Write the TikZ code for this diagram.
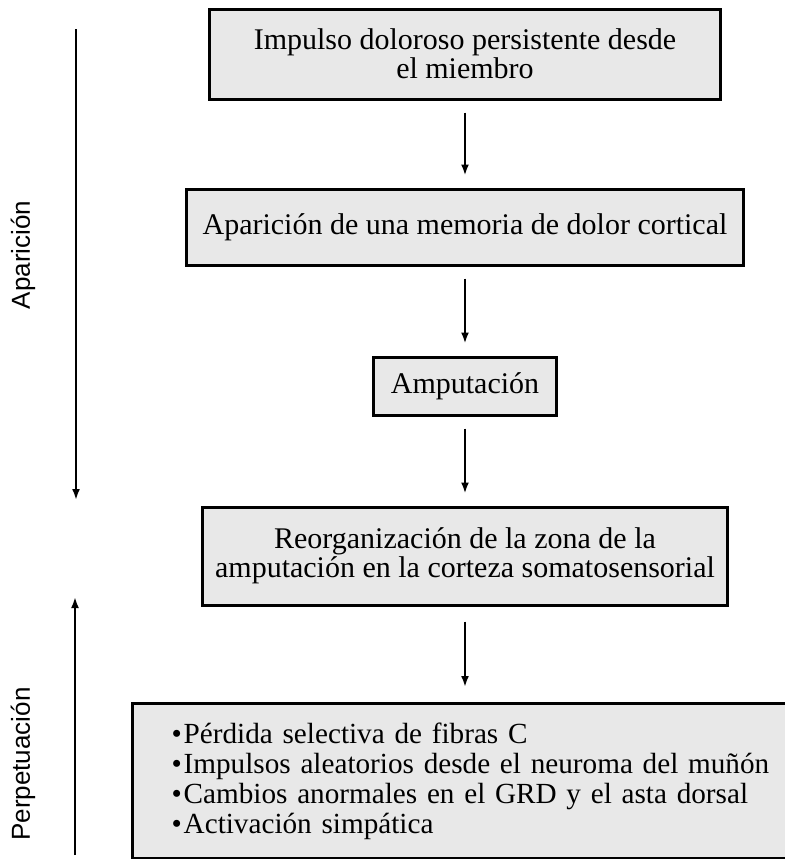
\documentclass[tikz,border=0pt]{standalone}
\usepackage{fontspec}
\setmainfont{Liberation Serif}
\newfontfamily\phasefont{Liberation Sans}
\usetikzlibrary{arrows.meta}
\definecolor{boxgray}{RGB}{232,232,232}

\begin{document}
\begin{tikzpicture}[x=0.5pt,y=-0.5pt,
  stagebox/.style={draw,line width=1.5pt,fill=boxgray,inner sep=0pt,align=center,font=\fontsize{15}{14.5}\selectfont},
  flowarrow/.style={-{Latex[length=5.5pt,width=4pt]},line width=1.4pt,shorten <=6pt,shorten >=6pt},
  phasearrow/.style={-{Latex[length=5.5pt,width=4pt]},line width=1.4pt},
  phaselabel/.style={rotate=90,font=\phasefont\fontsize{13}{13}\selectfont}]
\useasboundingbox (0,0) rectangle (784,859);

\node[stagebox,minimum width=255.5pt,minimum height=45pt] (impulso) at (465,54) {Impulso doloroso persistente desde\\el miembro};
\node[stagebox,minimum width=278.5pt,minimum height=38pt] (memoria) at (465,227) {Aparición de una memoria de dolor cortical};
\node[stagebox,minimum width=91.5pt,minimum height=29pt] (amputacion) at (465,386) {Amputación};
\node[stagebox,minimum width=262.5pt,minimum height=49pt] (reorganizacion) at (465,556) {Reorganización de la zona de la\\amputación en la corteza somatosensorial};
\node[stagebox,anchor=north west,minimum height=77.5pt,text width=310pt,inner xsep=19.5pt,align=left,font=\fontsize{14.6}{15}\selectfont] (mecanismos) at (131,702) {%
•\hspace{1pt}Pérdida selectiva de fibras C\\
•\hspace{1pt}Impulsos aleatorios desde el neuroma del muñón\\
•\hspace{1pt}Cambios anormales en el GRD y el asta dorsal\\
•\hspace{1pt}Activación simpática};

\draw[flowarrow] (impulso) -- (memoria);
\draw[flowarrow] (memoria) -- (amputacion);
\draw[flowarrow] (amputacion) -- (reorganizacion);
\draw[flowarrow,shorten <=7.5pt,shorten >=7.5pt] (reorganizacion) -- (reorganizacion.south |- mecanismos.north);

\coordinate (aparicionA) at (76,29);
\coordinate (aparicionB) at (76,500);
\draw[phasearrow] (aparicionA) -- (aparicionB);
\node[phaselabel] (aparicion) at (23,255) {Aparición};

\coordinate (perpetuacionA) at (75,855);
\coordinate (perpetuacionB) at (75,597);
\draw[phasearrow] (perpetuacionA) -- (perpetuacionB);
\node[phaselabel] (perpetuacion) at (23,764) {Perpetuación};
\end{tikzpicture}
\end{document}
